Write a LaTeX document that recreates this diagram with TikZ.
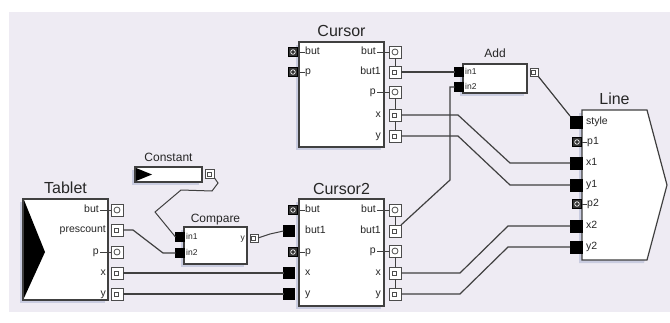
\documentclass[tikz,border=0pt]{standalone}
\usepackage{fontspec}
\setmainfont{Liberation Sans}
\usepackage{tikz}
\usetikzlibrary{positioning}
\usetikzlibrary{shadows}
\usepackage{xcolor}

\definecolor{lav}{HTML}{EEEBF3}
\definecolor{shade}{HTML}{C9CCE0}

\tikzset{
  blk/.style={draw=black!75, fill=white, line width=1.2pt, inner sep=0pt, outer sep=0pt,
    drop shadow={shadow xshift=-3pt, shadow yshift=-3pt, fill=shade, opacity=1}},
  ttl/.style={font=\fontsize{16}{18}\selectfont, text=black!85, inner sep=0pt, text depth=0pt},
  sttl/.style={font=\fontsize{12}{14}\selectfont, text=black!85, inner sep=0pt, text depth=0pt},
  plbl/.style={font=\fontsize{10.5}{12}\selectfont, text=black!85, inner sep=0pt, text height=7pt, text depth=2pt},
  splbl/.style={font=\fontsize{8.5}{10}\selectfont, text=black!85, inner sep=0pt, text height=5.5pt, text depth=1.5pt},
  dport/.style={draw=black, fill=black, minimum size=11pt, inner sep=0pt, outer sep=0pt},
  eport/.style={draw=black, fill=black!80, minimum size=9pt, inner sep=0pt, outer sep=0pt,
    path picture={\draw[white, line width=.7pt] (path picture bounding box.center) circle (2.3pt);}},
  oport/.style={draw=black!70, fill=white, line width=.9pt, minimum size=12pt, inner sep=0pt, outer sep=0pt,
    path picture={\draw[black!70, line width=.7pt] ([shift={(-2.5pt,-2.5pt)}]path picture bounding box.center) rectangle ++(4pt,4pt);}},
  oeport/.style={oport,
    path picture={\draw[black!70, line width=.8pt] (path picture bounding box.center) circle (3pt);}},
  stub/.style={draw=black!75, line width=.8pt},
  wire/.style={draw=black!75, line width=1.2pt}
}

\begin{document}
\begin{tikzpicture}[x=1pt, y=-1pt]
    % Frame
    \useasboundingbox (0,0) rectangle (670,322);
    \fill[white] (0,0) rectangle (670,322);
    \fill[lav] (9,12) rectangle (670,312);

    % Blocks
    \node[blk, minimum width=85pt, minimum height=105pt] (cur) at (341.5,94.5) {};
    \node[blk, minimum width=85pt, minimum height=107pt] (cur2) at (341.5,252.5) {};
    \node[blk, minimum width=85pt, minimum height=101pt] (tab) at (65.5,249.5) {};
    \node[blk, minimum width=67pt, minimum height=15pt] (cst) at (168.5,174.5) {};
    \node[blk, minimum width=63pt, minimum height=37pt] (cmp) at (215.5,245.5) {};
    \node[blk, minimum width=64pt, minimum height=29pt] (add) at (495,78.5) {};
    \draw[blk] (582,110) -- (647,110) -- (667,185) -- (647,260) -- (582,260) -- cycle;
    \coordinate (ln) at (614.5,110);
    \fill[black] (24,200) -- (45,252) -- (24,298) -- cycle;
    \fill[black] (136,168) -- (152,174.5) -- (136,181) -- cycle;

    % Titles
    \node[ttl, above=5pt] (cur-t) at (cur.north) {Cursor};
    \node[ttl, above=4pt] (cur2-t) at (cur2.north) {Cursor2};
    \node[ttl, above=5pt] (tab-t) at (tab.north) {Tablet};
    \node[ttl, above=5pt] (ln-t) at (ln) {Line};
    \node[sttl, above=5pt] (cst-t) at (cst.north) {Constant};
    \node[sttl, above=4pt] (cmp-t) at (cmp.north) {Compare};
    \node[sttl, above=6pt] (add-t) at (add.north) {Add};

    % Cursor ports
    \foreach \k/\y in {but/52, p/72} {
        \node[eport] (cur-\k) at (293,\y) {};
        \draw[stub] (cur-\k.east) -- ++(7,0);
        \node[plbl, anchor=west] (cur-l\k) at (305,\y) {\k};
    }
    \foreach \k/\t/\y in {bo/but/52, po/p/92} {
        \node[oeport] (cur-\k) at (395,\y) {};
        \draw[stub] (cur-\k.west) -- ++(-12,0);
        \node[plbl, anchor=east] (cur-l\k) at (376,\y) {\t};
    }
    \foreach \k/\t/\y in {b1/but1/72, xo/x/115, yo/y/136} {
        \node[oport] (cur-\k) at (395,\y) {};
        \node[plbl, anchor=east] (cur-l\k) at (381,\y) {\t};
    }
    \draw[stub] (cur-bo.south) -- (cur-b1.north);
    \draw[stub] (cur-po.south) -- (cur-xo.north) (cur-xo.south) -- (cur-yo.north);

    % Cursor2 ports
    \foreach \k/\y in {but/210, p/252} {
        \node[eport] (cur2-\k) at (293,\y) {};
        \draw[stub] (cur2-\k.east) -- ++(7,0);
        \node[plbl, anchor=west] (cur2-l\k) at (305,\y) {\k};
    }
    \foreach \k/\t/\y in {b1/but1/231, x/x/273, y/y/294} {
        \node[dport] (cur2-\k) at (289,\y) {};
        \node[plbl, anchor=west] (cur2-l\k) at (305,\y) {\t};
    }
    \foreach \k/\t/\y in {bo/but/210, po/p/251} {
        \node[oeport] (cur2-\k) at (395,\y) {};
        \draw[stub] (cur2-\k.west) -- ++(-12,0);
        \node[plbl, anchor=east] (cur2-l\k) at (376,\y) {\t};
    }
    \foreach \k/\t/\y in {b1o/but1/231, xo/x/273, yo/y/294} {
        \node[oport] (cur2-\k) at (395,\y) {};
        \node[plbl, anchor=east] (cur2-l\k) at (381,\y) {\t};
    }
    \draw[stub] (cur2-bo.south) -- (cur2-b1o.north);
    \draw[stub] (cur2-po.south) -- (cur2-xo.north) (cur2-xo.south) -- (cur2-yo.north);

    % Tablet ports
    \foreach \k/\t/\y in {bo/but/210, po/p/252} {
        \node[oeport] (tab-\k) at (117,\y) {};
        \draw[stub] (tab-\k.west) -- ++(-11,0);
        \node[plbl, anchor=east] (tab-l\k) at (99,\y) {\t};
    }
    \foreach \k/\t/\y in {pc/prescount/230, x/x/273, y/y/294} {
        \node[oport] (tab-\k) at (117,\y) {};
        \node[plbl, anchor=east] (tab-l\k) at (106,\y) {\t};
    }

    % Line ports
    \foreach \k/\y in {style/122, x1/163, y1/185, x2/226, y2/247} {
        \node[dport, minimum size=12pt] (ln-\k) at (576,\y) {};
        \node[plbl, anchor=west] (ln-l\k) at (586,\y) {\k};
    }
    \foreach \k/\y in {p1/142, p2/204} {
        \node[eport] (ln-\k) at (577,\y) {};
        \draw[stub] (ln-\k.east) -- ++(5,0);
        \node[plbl, anchor=west] (ln-l\k) at (587,\y) {\k};
    }

    % Small blocks
    \foreach \k/\y in {in1/237, in2/253} {
        \node[dport, minimum size=9pt] (cmp-\k) at (180,\y) {};
        \node[splbl, anchor=west] (cmp-l\k) at (186,\y) {\k};
    }
    \node[oport, minimum size=8pt] (cmp-out) at (254,238) {};
    \node[splbl, anchor=east] (cmp-ly) at (245,238) {y};
    \foreach \k/\y in {in1/72, in2/87} {
        \node[dport, minimum size=9pt] (add-\k) at (459,\y) {};
        \node[splbl, anchor=west] (add-l\k) at (465,\y) {\k};
    }
    \node[oport, minimum size=8pt] (add-out) at (534,72) {};
    \node[oport, minimum size=9pt] (cst-out) at (210,173.5) {};

    % Wires
    \draw[wire] (cur-b1.east) -- (add-in1.west);
    \draw[wire] (add-out.south east) -- (ln-style.north west);
    \draw[wire] (cur-xo.east) -- ++(57,0) -- (510,0 |- ln-x1) -- (ln-x1.west);
    \draw[wire] (cur-yo.east) -- ++(57,0) -- (510,0 |- ln-y1) -- (ln-y1.west);
    \draw[wire] (cur2-b1o.north east) -- (450,180) -- (450,0 |- add-in2) -- (add-in2.west);
    \draw[wire] (cur2-xo.east) -- ++(59,0) -- (508,0 |- ln-x2) -- (ln-x2.west);
    \draw[wire] (cur2-yo.east) -- ++(59,0) -- (508,0 |- ln-y2) -- (ln-y2.west);
    \draw[wire] (tab-x.east) -- (cur2-x.west);
    \draw[wire] (tab-y.east) -- (cur2-y.west);
    \draw[wire] (tab-pc.east) -- ++(10,0) -- (163,0 |- cmp-in2) -- (cmp-in2.west);
    \draw[wire, line width=1pt] (cst-out.south east) -- (218,183) -- (212,191) -- (181,190) -- (155,212) -- (cmp-in1.west);
    \draw[wire, line width=1pt] (cmp-out.east) -- (270,234) -- (cur2-b1.west);
\end{tikzpicture}
\end{document}
